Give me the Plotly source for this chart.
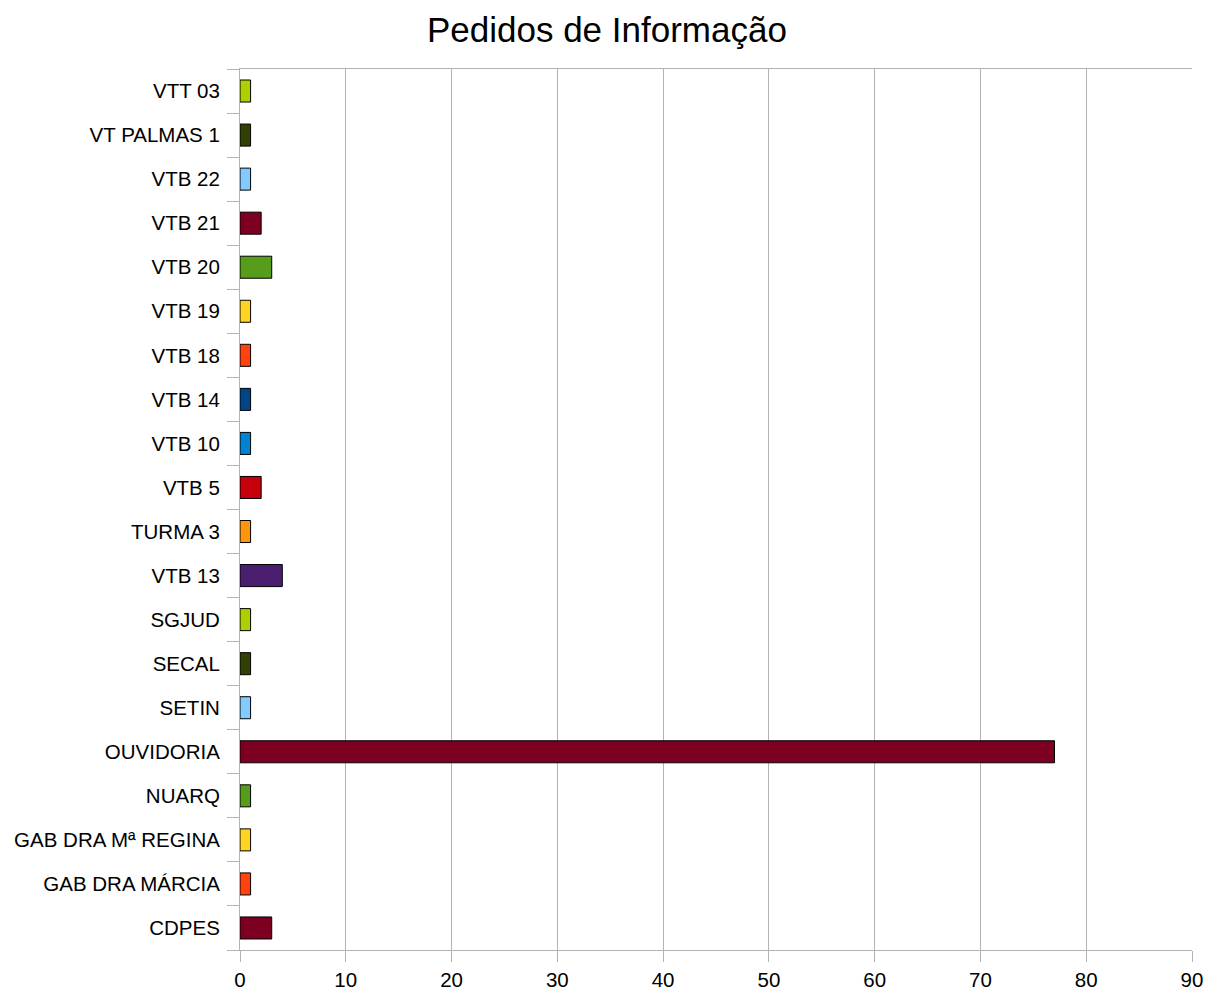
import plotly.graph_objects as go

categories = ["CDPES", "GAB DRA MÁRCIA", "GAB DRA Mª REGINA", "NUARQ", "OUVIDORIA",
              "SETIN", "SECAL", "SGJUD", "VTB 13", "TURMA 3", "VTB 5", "VTB 10",
              "VTB 14", "VTB 18", "VTB 19", "VTB 20", "VTB 21", "VTB 22",
              "VT PALMAS 1", "VTT 03"]
values = [3, 1, 1, 1, 77, 1, 1, 1, 4, 1, 2, 1, 1, 1, 1, 3, 2, 1, 1, 1]
colors = ["#7e0021", "#ff420e", "#ffd320", "#579d1c", "#7e0021", "#83caff",
          "#314004", "#aecf00", "#4b1f6f", "#ff950e", "#c5000b", "#0084d1",
          "#004586", "#ff420e", "#ffd320", "#579d1c", "#7e0021", "#83caff",
          "#314004", "#aecf00"]
x_ticks = [0, 10, 20, 30, 40, 50, 60, 70, 80, 90]

fig = go.Figure(go.Bar(
    x=values, y=categories, orientation="h",
    marker=dict(color=colors, line=dict(color="#000000", width=1)),
    width=0.5,
))

fig.update_layout(
    width=1209, height=991,
    margin=dict(l=240, r=17, t=69, b=41),
    paper_bgcolor="white", plot_bgcolor="white",
    font=dict(family="Liberation Sans, Arial, sans-serif", size=20.5, color="#000000"),
    title=dict(text="Pedidos de Informação", x=0.502, xanchor="center",
               y=0.9697, yanchor="middle", font=dict(size=35)),
    showlegend=False,
    bargap=0.5,
)
fig.update_xaxes(
    range=[0, 90], tickvals=x_ticks, showgrid=True, gridcolor="#b3b3b3",
    gridwidth=1, showline=True, linecolor="#b3b3b3", mirror=True,
    ticks="outside", ticklen=11, tickcolor="#b3b3b3", zeroline=False,
    tickfont=dict(size=20.5), automargin=False, ticklabeloverflow="allow",
    ticklabelstandoff=0,
)
fig.update_yaxes(
    categoryorder="array", categoryarray=categories,
    showline=True, linecolor="#b3b3b3", ticks="outside", ticklen=12,
    tickcolor="#b3b3b3", tickson="boundaries", showgrid=False,
    tickfont=dict(size=20.5), ticklabelstandoff=15, automargin=False,
)

fig.write_html("out.html", config={"displayModeBar": False},
               post_script="document.body.style.margin='0';")
